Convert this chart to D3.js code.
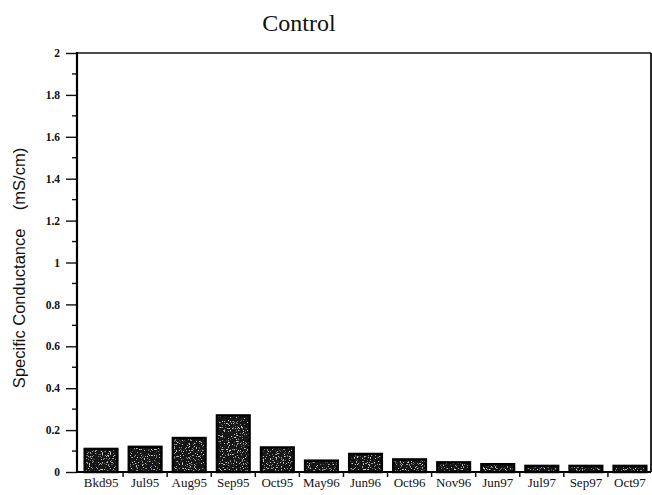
<!DOCTYPE html>
<html>
<head>
<meta charset="utf-8">
<script src="https://cdn.jsdelivr.net/npm/d3@7"></script>
<style>
  html, body { margin: 0; padding: 0; background: #fff; }
  svg { display: block; }
</style>
</head>
<body>
<svg id="chart" width="652" height="495"></svg>
<script>
// Sampling dates and specific conductance (mS/cm) at the control site
const categories = ["Bkd95", "Jul95", "Aug95", "Sep95", "Oct95", "May96", "Jun96",
                    "Oct96", "Nov96", "Jun97", "Jul97", "Sep97", "Oct97"];
const conductance = [0.11, 0.12, 0.162, 0.27, 0.117, 0.054, 0.086,
                     0.06, 0.046, 0.037, 0.029, 0.029, 0.029];
const yMajorTicks = [0, 0.2, 0.4, 0.6, 0.8, 1, 1.2, 1.4, 1.6, 1.8, 2];
const yTickLabels = ["0", "0.2", "0.4", "0.6", "0.8", "1", "1.2", "1.4", "1.6", "1.8", "2"];
const yMinorTicks = [0.1, 0.3, 0.5, 0.7, 0.9, 1.1, 1.3, 1.5, 1.7, 1.9];

const serif = "Liberation Serif, DejaVu Serif, serif";
const sans = "Liberation Sans, Arial, sans-serif";

const svg = d3.select("#chart");
const plotLeft = 77, plotRight = 651, plotTop = 53, plotBottom = 472;

const x = d3.scaleBand().domain(categories).range([79, 652]).paddingInner(0.26).paddingOuter(0.13);
const y = d3.scaleLinear().domain([0, 2]).range([plotBottom, plotTop]);

// grainy dark fill for the bars: sparse grey speckles over near-black
const defs = svg.append("defs");
const f = defs.append("filter").attr("id", "grain").attr("x", 0).attr("y", 0).attr("width", 1).attr("height", 1);
f.append("feTurbulence").attr("type", "fractalNoise").attr("baseFrequency", 0.85).attr("numOctaves", 2).attr("seed", 11).attr("result", "noise");
f.append("feColorMatrix").attr("in", "noise").attr("type", "matrix")
  .attr("values", "0 0 0 0 0.6  0 0 0 0 0.6  0 0 0 0 0.6  0 0 0 7 -4.2").attr("result", "dots");
f.append("feComposite").attr("in", "dots").attr("in2", "SourceGraphic").attr("operator", "in").attr("result", "clipped");
f.append("feMerge").selectAll("feMergeNode").data(["SourceGraphic", "clipped"]).join("feMergeNode").attr("in", d => d);

const barData = categories.map((c, i) => ({ c, v: conductance[i] }));
const bars = svg.append("g");
bars.selectAll("rect.bar")
  .data(barData)
  .join("rect")
  .attr("class", "bar")
  .attr("x", d => x(d.c))
  .attr("y", d => y(d.v))
  .attr("width", x.bandwidth())
  .attr("height", d => plotBottom - y(d.v))
  .attr("fill", "#151515")
  .attr("filter", "url(#grain)");
bars.selectAll("rect.edge")
  .data(barData)
  .join("rect")
  .attr("class", "edge")
  .attr("x", d => x(d.c))
  .attr("y", d => y(d.v))
  .attr("width", x.bandwidth())
  .attr("height", d => plotBottom - y(d.v))
  .attr("fill", "none")
  .attr("stroke", "#000")
  .attr("stroke-width", 2.5);

// frame: top and right edges
svg.append("line").attr("x1", plotLeft).attr("x2", plotRight).attr("y1", plotTop).attr("y2", plotTop)
  .attr("stroke", "#111").attr("stroke-width", 1.5);
svg.append("line").attr("x1", plotRight).attr("x2", plotRight).attr("y1", plotTop).attr("y2", plotBottom)
  .attr("stroke", "#111").attr("stroke-width", 1.8);

// y axis with major and minor ticks
const yAxis = svg.append("g").attr("transform", `translate(${plotLeft},0)`)
  .call(d3.axisLeft(y).tickValues(yMajorTicks).tickSize(11).tickFormat((d, i) => yTickLabels[i]));
yAxis.select(".domain").remove();
yAxis.selectAll(".tick line").attr("stroke", "#111").attr("stroke-width", 1.4);
yAxis.selectAll(".tick text")
  .style("font-family", serif)
  .attr("font-size", 11.5).attr("font-weight", "bold").attr("fill", "#111").attr("x", -17);
svg.append("g").attr("transform", `translate(${plotLeft},0)`)
  .selectAll("line").data(yMinorTicks).join("line")
  .attr("x1", -5).attr("x2", 0).attr("y1", d => y(d)).attr("y2", d => y(d))
  .attr("stroke", "#111").attr("stroke-width", 1.4);
svg.append("line").attr("x1", plotLeft).attr("x2", plotLeft).attr("y1", plotTop - 1).attr("y2", plotBottom + 1)
  .attr("stroke", "#000").attr("stroke-width", 2.2);

// x axis: category labels, ticks at band boundaries
const xAxis = svg.append("g").attr("transform", `translate(0,${plotBottom})`)
  .call(d3.axisBottom(x).tickSize(0).tickPadding(6));
xAxis.select(".domain").remove();
xAxis.selectAll(".tick text")
  .style("font-family", serif)
  .attr("font-size", 13).attr("fill", "#111");
svg.append("line").attr("x1", plotLeft).attr("x2", plotRight).attr("y1", plotBottom).attr("y2", plotBottom)
  .attr("stroke", "#000").attr("stroke-width", 2);
svg.append("g").selectAll("line").data(categories.slice(1)).join("line")
  .attr("x1", d => x(d) - x.step() * x.paddingInner() / 2)
  .attr("x2", d => x(d) - x.step() * x.paddingInner() / 2)
  .attr("y1", plotBottom).attr("y2", plotBottom + 5)
  .attr("stroke", "#111").attr("stroke-width", 1.5);

// title and axis label
svg.append("text").attr("x", 299).attr("y", 31).attr("text-anchor", "middle")
  .style("font-family", serif)
  .attr("font-size", 24).attr("fill", "#111").text("Control");
svg.append("text").attr("transform", "translate(25,268) rotate(-90)").attr("text-anchor", "middle")
  .style("font-family", sans)
  .attr("font-size", 16.5).attr("fill", "#111").attr("xml:space", "preserve")
  .text("Specific Conductance    (mS/cm)");
</script>
</body>
</html>
